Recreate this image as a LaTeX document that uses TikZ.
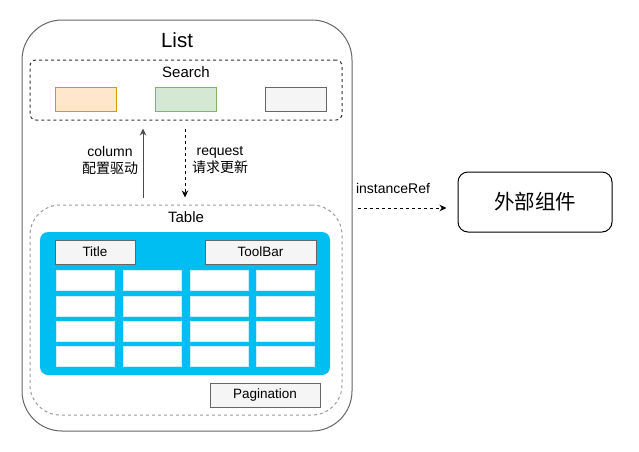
\documentclass[tikz,border=0pt]{standalone}
\usepackage{fontspec}
\setmainfont{Liberation Sans}
\newfontfamily\cjk{Noto Sans CJK SC}
\usetikzlibrary{arrows.meta,positioning}

\definecolor{listcyan}{HTML}{00BEF2}
\definecolor{orfill}{HTML}{FFE6CC}
\definecolor{ordraw}{HTML}{D79B00}
\definecolor{grfill}{HTML}{D5E8D4}
\definecolor{grdraw}{HTML}{82B366}
\definecolor{gyfill}{HTML}{F5F5F5}
\definecolor{gydraw}{HTML}{666666}

\tikzset{
  box/.style={rectangle, inner sep=0pt, line width=1pt},
  panel/.style={box, draw=black!60, rounded corners=40pt},
  group/.style={box, dash pattern=on 3pt off 3pt, minimum width=312pt},
  field/.style={box, minimum width=61pt, minimum height=24pt},
  greybox/.style={box, draw=gydraw, fill=gyfill, minimum height=24pt,
    font=\fontsize{13.5}{15}\selectfont},
  cell/.style={box, draw=cyan!20, fill=white, minimum width=58pt, minimum height=20pt},
  lbl/.style={inner sep=0pt, font=\fontsize{14}{17}\selectfont, align=center},
  flow/.style={line width=1pt, -{Stealth[length=7pt,width=6.5pt]}},
}

\begin{document}
\begin{tikzpicture}[x=1pt, y=-1pt]
\useasboundingbox (0,0) rectangle (639,451);

% list container
\node[panel, minimum width=330pt, minimum height=411pt] (panel) at (187,225.5) {};
\node[lbl, font=\fontsize{20.5}{22}\selectfont] (listlbl) at (177,40) {List};

% search area
\node[group, draw=black!80, rounded corners=6pt, minimum height=60pt] (search) at (186,90) {};
\node[lbl, font=\fontsize{15}{17}\selectfont] (searchlbl) at (186,72) {Search};
\node[field, draw=ordraw, fill=orfill] (f1) at (85.5,99) {};
\node[field, draw=grdraw, fill=grfill] (f2) at (186,99) {};
\node[field, draw=gydraw, fill=gyfill] (f3) at (295.5,99) {};

% table area
\node[group, draw=black!40, rounded corners=30pt, minimum height=210pt] (tbl) at (186,310) {};
\node[lbl, font=\fontsize{15}{17}\selectfont] (tbllbl) at (186,217) {Table};
\node[box, fill=listcyan, rounded corners=8pt, minimum width=290pt, minimum height=143pt] (grid) at (185,303.5) {};
\node[greybox, minimum width=80pt] (title) at (95,252) {Title};
\node[greybox, minimum width=111pt] (toolbar) at (260.5,252) {ToolBar};
\foreach \c/\x in {1/85, 2/152, 3/219, 4/285.5}
  \foreach \r/\y in {1/280.5, 2/306, 3/331, 4/356}
    \node[cell] (cell-\r-\c) at (\x,\y) {};
\node[greybox, minimum width=110pt] (pager) at (265,395) {Pagination};

% data flow between search and table
\coordinate (upx) at (143,0);
\coordinate (downx) at (185,0);
\draw[flow, draw=black!70] ([yshift=7pt]tbl.north -| upx) -- ([yshift=-8pt]search.south -| upx);
\draw[flow, dash pattern=on 3pt off 3pt] ([yshift=-8pt]search.south -| downx) -- ([yshift=7pt]tbl.north -| downx);
\node[lbl] (collbl) at (110,160) {column\\{\cjk 配置驱动}};
\node[lbl] (reqlbl) at (220,160) {request\\{\cjk 请求更新}};

% external component
\node[box, draw=black, rounded corners=10pt, minimum width=154pt, minimum height=60pt,
  font=\cjk\fontsize{20.5}{22}\selectfont] (ext) at (535,202) {外部组件};
\coordinate (refstart) at (358,208);
\draw[flow, dash pattern=on 3pt off 3pt] (refstart) -- ([xshift=-11pt]ext.west |- refstart);
\node[lbl] (reflbl) at (393,188) {instanceRef};
\end{tikzpicture}
\end{document}
